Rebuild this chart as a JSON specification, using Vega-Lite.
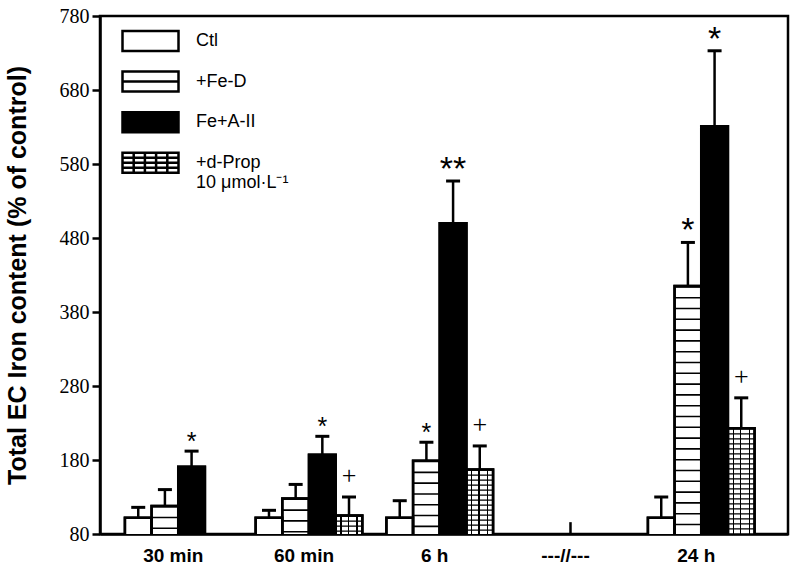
{
  "$schema": "https://vega.github.io/schema/vega-lite/v6.json",
  "width": 688,
  "height": 518,
  "autosize": {"type": "none"},
  "padding": {"left": 100, "top": 16, "right": 12, "bottom": 44},
  "background": "white",
  "config": {
    "view": {"stroke": "black", "strokeWidth": 2.5},
    "axis": {"domainColor": "black", "domainWidth": 2.5, "tickColor": "black", "labelColor": "black", "titleColor": "black", "grid": false},
    "legend": {
      "orient": "none", "legendX": 39, "legendY": 13.5, "padding": 0,
      "labelFont": "Liberation Sans", "labelFontSize": 18, "labelColor": "black", "labelLimit": 0,
      "symbolSize": 400, "symbolStrokeColor": "black", "symbolStrokeWidth": 2.5,
      "rowPadding": 9.6, "labelOffset": 34
    }
  },
  "data": {
    "values": [
      {"time": "30 min", "series": "Ctl", "value": 102, "err": 116, "sig": ""},
      {"time": "30 min", "series": "+Fe-D", "value": 118, "err": 140, "sig": ""},
      {"time": "30 min", "series": "Fe+A-II", "value": 171, "err": 192, "sig": "*"},
      {"time": "60 min", "series": "Ctl", "value": 102, "err": 112, "sig": ""},
      {"time": "60 min", "series": "+Fe-D", "value": 128, "err": 147, "sig": ""},
      {"time": "60 min", "series": "Fe+A-II", "value": 187, "err": 212, "sig": "*"},
      {"time": "60 min", "series": "+d-Prop", "value": 105, "err": 130, "sig": "+"},
      {"time": "6 h", "series": "Ctl", "value": 102, "err": 125, "sig": ""},
      {"time": "6 h", "series": "+Fe-D", "value": 179, "err": 204, "sig": "*"},
      {"time": "6 h", "series": "Fe+A-II", "value": 500, "err": 557, "sig": "**"},
      {"time": "6 h", "series": "+d-Prop", "value": 167, "err": 199, "sig": "+"},
      {"time": "24 h", "series": "Ctl", "value": 102, "err": 130, "sig": ""},
      {"time": "24 h", "series": "+Fe-D", "value": 415, "err": 474, "sig": "*"},
      {"time": "24 h", "series": "Fe+A-II", "value": 631, "err": 733, "sig": "*"},
      {"time": "24 h", "series": "+d-Prop", "value": 223, "err": 264, "sig": "+"}
    ]
  },
  "layer": [
    {
      "mark": {"type": "bar", "stroke": "black", "strokeWidth": 2.5, "clip": true},
      "encoding": {
        "x": {
          "field": "time", "type": "nominal", "sort": null,
          "scale": {"domain": ["30 min", "60 min", "6 h", "---//---", "24 h"], "paddingInner": 0.184, "paddingOuter": 0.223, "align": 0.427},
          "axis": {"title": null, "ticks": false, "labelAngle": 0, "labelFont": "Liberation Sans", "labelFontWeight": "bold", "labelFontSize": 19, "labelPadding": 12, "labelOffset": -5}
        },
        "xOffset": {"field": "series", "type": "nominal", "sort": null, "scale": {"domain": ["Ctl", "+Fe-D", "Fe+A-II", "+d-Prop"], "paddingInner": 0, "paddingOuter": 0}},
        "y": {
          "field": "value", "type": "quantitative",
          "scale": {"domain": [80, 780], "nice": false, "zero": false},
          "axis": {
            "title": "Total EC Iron content (% of control)", "titleFont": "Liberation Sans", "titleFontWeight": "bold", "titleFontSize": 25, "titlePadding": 29,
            "values": [80, 180, 280, 380, 480, 580, 680, 780],
            "labelFont": "Liberation Serif", "labelFontSize": 20, "tickSize": 8, "tickWidth": 2.5, "labelPadding": 3
          }
        },
        "fill": {
          "field": "series", "type": "nominal", "sort": null,
          "scale": {"domain": ["Ctl", "+Fe-D", "Fe+A-II", "+d-Prop"], "range": ["white", "white", "black", "white"]},
          "legend": {
            "title": null,
            "labelExpr": "datum.label == '+d-Prop' ? ['+d-Prop', '10 μmol·L⁻¹'] : datum.label",
            "encode": {"symbols": {"update": {"stroke": {"value": "black"}, "strokeWidth": {"value": 2.5}, "opacity": {"value": 1}}}}
          }
        }
      }
    },
    {
      "transform": [{"filter": "datum.series == '+Fe-D' || datum.series == '+d-Prop'"}],
      "mark": {"type": "rule", "strokeWidth": 26, "strokeCap": "butt", "color": "black"},
      "encoding": {
        "x": {"field": "time", "type": "nominal"},
        "xOffset": {"field": "series", "type": "nominal"},
        "y": {"field": "value", "type": "quantitative"},
        "y2": {"value": {"expr": "height"}},
        "strokeDash": {"field": "series", "type": "nominal", "scale": {"domain": ["+Fe-D", "+d-Prop"], "range": [[1.6, 9.2], [1.2, 3.8]]}, "legend": null}
      }
    },
    {
      "transform": [{"filter": "datum.series == '+d-Prop'"}],
      "mark": {
        "type": "bar", "clip": true,
        "fill": {
          "gradient": "linear", "x1": 0, "y1": 0, "x2": 1, "y2": 0,
          "stops": [
            {"offset": 0, "color": "rgba(255,255,255,0)"},
            {"offset": 0.178, "color": "rgba(255,255,255,0)"},
            {"offset": 0.178, "color": "black"},
            {"offset": 0.222, "color": "black"},
            {"offset": 0.222, "color": "rgba(255,255,255,0)"},
            {"offset": 0.448, "color": "rgba(255,255,255,0)"},
            {"offset": 0.448, "color": "black"},
            {"offset": 0.492, "color": "black"},
            {"offset": 0.492, "color": "rgba(255,255,255,0)"},
            {"offset": 0.778, "color": "rgba(255,255,255,0)"},
            {"offset": 0.778, "color": "black"},
            {"offset": 0.822, "color": "black"},
            {"offset": 0.822, "color": "rgba(255,255,255,0)"},
            {"offset": 1, "color": "rgba(255,255,255,0)"}
          ]
        }
      },
      "encoding": {
        "x": {"field": "time", "type": "nominal"},
        "xOffset": {"field": "series", "type": "nominal"},
        "y": {"field": "value", "type": "quantitative"}
      }
    },
    {
      "mark": {"type": "bar", "fillOpacity": 0, "stroke": "black", "strokeWidth": 2.5, "clip": true},
      "encoding": {
        "x": {"field": "time", "type": "nominal"},
        "xOffset": {"field": "series", "type": "nominal"},
        "y": {"field": "value", "type": "quantitative"}
      }
    },
    {
      "mark": {"type": "rule", "strokeWidth": 2.5, "color": "black"},
      "encoding": {
        "x": {"field": "time", "type": "nominal"},
        "xOffset": {"field": "series", "type": "nominal"},
        "y": {"field": "value", "type": "quantitative"},
        "y2": {"field": "err"}
      }
    },
    {
      "mark": {"type": "tick", "thickness": 3, "size": 14, "color": "black", "opacity": 1},
      "encoding": {
        "x": {"field": "time", "type": "nominal"},
        "xOffset": {"field": "series", "type": "nominal"},
        "y": {"field": "err", "type": "quantitative"}
      }
    },
    {
      "transform": [{"filter": "datum.sig == '*' || datum.sig == '**'"}],
      "mark": {"type": "text", "font": "Liberation Sans", "baseline": "alphabetic", "dy": -1, "color": "black"},
      "encoding": {
        "x": {"field": "time", "type": "nominal"},
        "xOffset": {"field": "series", "type": "nominal"},
        "y": {"field": "err", "type": "quantitative"},
        "text": {"field": "sig"},
        "size": {"condition": {"test": "datum.sig == '**' || datum.time == '24 h'", "value": 34}, "value": 25}
      }
    },
    {
      "transform": [{"filter": "datum.sig == '+'"}],
      "mark": {"type": "text", "font": "Liberation Serif", "fontSize": 26, "baseline": "alphabetic", "dy": -13, "color": "#000000"},
      "encoding": {
        "x": {"field": "time", "type": "nominal"},
        "xOffset": {"field": "series", "type": "nominal"},
        "y": {"field": "err", "type": "quantitative"},
        "text": {"field": "sig"}
      }
    },
    {
      "data": {"values": [{"time": "---//---", "lo": 80, "hi": 96}]},
      "mark": {"type": "rule", "strokeWidth": 2.5, "color": "black"},
      "encoding": {
        "x": {"field": "time", "type": "nominal"},
        "y": {"field": "lo", "type": "quantitative"},
        "y2": {"field": "hi"}
      }
    },
    {
      "mark": {"type": "point", "filled": true, "size": 0},
      "encoding": {
        "x": {"field": "time", "type": "nominal"},
        "xOffset": {"field": "series", "type": "nominal"},
        "y": {"field": "value", "type": "quantitative"},
        "fill": {
          "field": "series", "type": "nominal", "sort": null,
          "legend": {
            "title": null,
            "labelExpr": "datum.label == '+d-Prop' ? ['+d-Prop', '10 μmol·L⁻¹'] : datum.label",
            "encode": {"symbols": {"update": {"stroke": {"value": "black"}, "strokeWidth": {"value": 2.5}, "opacity": {"value": 1}}}}
          }
        },
        "shape": {
          "field": "series", "type": "nominal", "sort": null,
          "scale": {"domain": ["Ctl", "+Fe-D", "Fe+A-II", "+d-Prop"], "range": [
            "M-2.8,-1H2.8V1H-2.8Z",
            "M-2.8,-1H2.8V1H-2.8Z M-2.8,0H2.8",
            "M-2.8,-1H2.8V1H-2.8Z",
            "M-2.8,-1H2.8V1H-2.8Z M-2.8,-0.5H2.8 M-2.8,0H2.8 M-2.8,0.5H2.8 M-1.68,-1V1 M-0.56,-1V1 M0.56,-1V1 M1.68,-1V1"
          ]},
          "legend": {
            "title": null,
            "labelExpr": "datum.label == '+d-Prop' ? ['+d-Prop', '10 μmol·L⁻¹'] : datum.label",
            "encode": {"symbols": {"update": {"stroke": {"value": "black"}, "strokeWidth": {"value": 2.5}, "opacity": {"value": 1}}}}
          }
        }
      }
    }
  ]
}
